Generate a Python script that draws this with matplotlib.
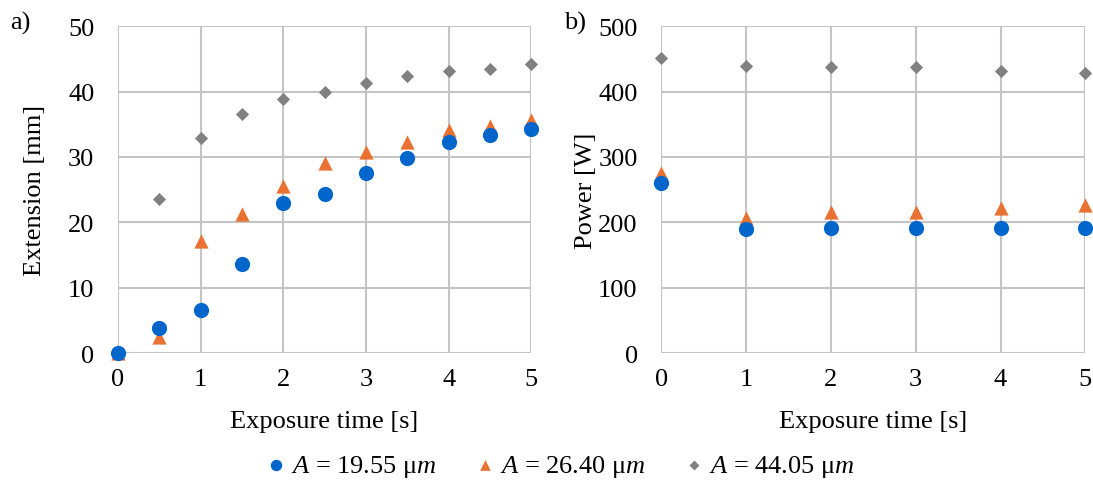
import matplotlib.pyplot as plt

plt.rcParams['font.family'] = ['Liberation Serif', 'DejaVu Serif']
plt.rcParams['mathtext.fontset'] = 'custom'
plt.rcParams['mathtext.rm'] = 'Liberation Serif'
plt.rcParams['mathtext.it'] = 'Liberation Serif:italic'

# data
t_ext = [0, 0.5, 1, 1.5, 2, 2.5, 3, 3.5, 4, 4.5, 5]
ext_1955 = [0, 3.8, 6.6, 13.6, 23.0, 24.4, 27.5, 29.8, 32.3, 33.3, 34.2]
ext_2640 = [0, 2.5, 17.2, 21.2, 25.6, 29.0, 30.8, 32.3, 34.1, 34.8, 35.7]
ext_4405 = [0, 23.6, 32.9, 36.5, 38.8, 39.9, 41.3, 42.4, 43.2, 43.4, 44.2]

t_pow = [0, 1, 2, 3, 4, 5]
pow_1955 = [260, 190, 191, 191, 191, 192]
pow_2640 = [276, 206, 215, 215, 222, 226]
pow_4405 = [451, 439, 437, 437, 432, 428]

labels = [r'$A$ = 19.55 μ$m$', r'$A$ = 26.40 μ$m$', r'$A$ = 44.05 μ$m$']
colors = ['#0066CC', '#E97132', '#808080']
markers = ['o', '^', 'D']
sizes = [120, 105, 45]
FS = 19

fig = plt.figure(figsize=(10.93, 4.85), dpi=100)
ax1 = fig.add_axes([0.108, 0.270, 0.378, 0.674])
ax2 = fig.add_axes([0.605, 0.270, 0.388, 0.674])


def style(ax, ylim, yticks, ylabel, ylpad):
    ax.set_xlim(0, 5)
    ax.set_ylim(*ylim)
    ax.set_xticks(range(6))
    ax.set_yticks(yticks)
    for s in ax.spines.values():
        s.set_visible(False)
    ax.grid(True, color='#C4C4C4', lw=1.5)
    ax.set_axisbelow(True)
    ax.tick_params(length=0, labelsize=FS)
    ax.tick_params(axis='x', pad=11)
    ax.tick_params(axis='y', pad=17)
    ax.set_xlabel('Exposure time [s]', fontsize=FS, labelpad=14)
    ax.set_ylabel(ylabel, fontsize=FS, labelpad=ylpad)


series_a = [ext_1955, ext_2640, ext_4405]
series_b = [pow_1955, pow_2640, pow_4405]
handles = []
for i in [2, 1, 0]:
    h = ax1.scatter(t_ext, series_a[i], s=sizes[i], c=colors[i], marker=markers[i],
                    clip_on=False, zorder=3 + (2 - i), label=labels[i], linewidths=0)
    ax2.scatter(t_pow, series_b[i], s=sizes[i], c=colors[i], marker=markers[i],
                clip_on=False, zorder=3 + (2 - i), linewidths=0)
    handles.append(h)

style(ax1, (0, 50), range(0, 51, 10), 'Extension [mm]', 16)
style(ax2, (0, 500), range(0, 501, 100), 'Power [W]', 1)

fig.text(0.009, 0.975, 'a)', fontsize=FS, va='top')
fig.text(0.516, 0.975, 'b)', fontsize=FS, va='top')

handles = handles[::-1]
fig.legend(handles, labels, loc='center', bbox_to_anchor=(0.510, 0.037), ncol=3,
           frameon=False, fontsize=FS, handletextpad=0.0, columnspacing=1.2,
           handlelength=1.2, markerscale=0.75)

plt.savefig('out.png', dpi=100)
